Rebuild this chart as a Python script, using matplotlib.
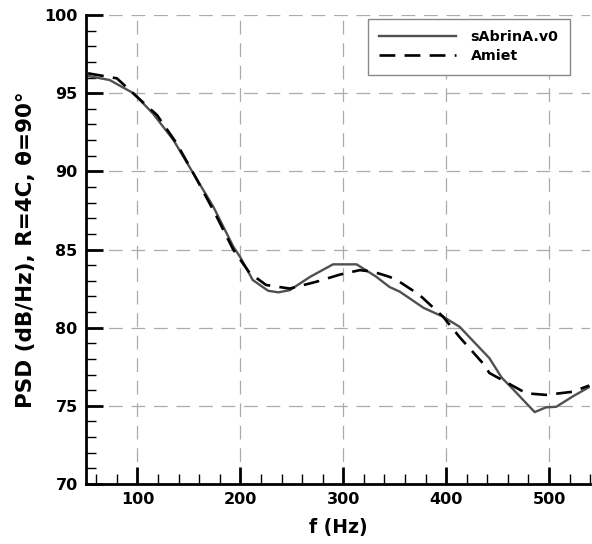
import matplotlib
matplotlib.use('Agg')
import matplotlib.pyplot as plt
from matplotlib.ticker import MultipleLocator

# --- data -----------------------------------------------------------
f_sabrina = [52, 73, 96, 115, 135, 154, 174, 193, 200, 212, 227, 237, 248,
             268, 290, 313, 332, 345, 355, 378, 397, 413, 442, 454, 463,
             486, 497, 507, 523, 539]
psd_sabrina = [96.1, 95.84, 95.0, 93.7, 92.0, 89.9, 87.7, 85.2, 84.5, 83.05,
               82.36, 82.26, 82.4, 83.26, 84.05, 84.05, 83.26, 82.6, 82.3,
               81.27, 80.7, 80.06, 78.05, 76.8, 76.2, 74.6, 74.9, 74.94,
               75.6, 76.2]

f_amiet = [52, 80, 99, 119, 138, 158, 177, 193, 209, 225, 248, 274, 297,
           316, 329, 345, 352, 374, 397, 413, 436, 442, 478, 497, 523, 539]
psd_amiet = [96.27, 95.95, 94.8, 93.6, 91.8, 89.44, 87.1, 85.0, 83.5, 82.73,
             82.5, 82.94, 83.4, 83.68, 83.58, 83.25, 83.05, 82.1, 80.7, 79.4,
             77.7, 77.1, 75.8, 75.7, 75.9, 76.3]

plt.rcParams['font.family'] = ['DejaVu Sans']
plt.rcParams['font.weight'] = 'bold'

fig = plt.figure(figsize=(5.92, 5.44), dpi=100)
ax = fig.add_axes([0.1453, 0.1103, 0.997 - 0.1453, 0.9724 - 0.1103])

ax.plot(f_sabrina, psd_sabrina, color='#505050', lw=1.7, label='sAbrinA.v0')
ax.plot(f_amiet, psd_amiet, color='black', lw=1.9, dashes=(6, 3.5),
        label='Amiet')

ax.set_xlim(50, 540)
ax.set_ylim(70, 100)
ax.xaxis.set_major_locator(MultipleLocator(100))
ax.xaxis.set_minor_locator(MultipleLocator(20))
ax.yaxis.set_major_locator(MultipleLocator(5))
ax.yaxis.set_minor_locator(MultipleLocator(1))

ax.grid(True, which='major', color='#ababab', lw=0.9, dashes=(11, 7))
ax.set_axisbelow(True)

for side in ('top', 'right'):
    ax.spines[side].set_visible(False)
for side in ('left', 'bottom'):
    ax.spines[side].set_linewidth(2)

ax.tick_params(which='major', direction='in', length=12, width=2,
               labelsize=11.5, pad=6)
ax.tick_params(which='minor', direction='in', length=7, width=1)
for lab in ax.get_xticklabels() + ax.get_yticklabels():
    lab.set_fontweight('bold')

ax.set_xlabel('f (Hz)', fontsize=13.5, fontweight='bold', labelpad=8)
ax.set_ylabel('PSD (dB/Hz), R=4C, \u03b8=90\u00b0', fontsize=15.5,
              fontweight='bold', labelpad=6)

leg = ax.legend(loc='upper right', bbox_to_anchor=(0.960, 0.9915),
                borderaxespad=0, fontsize=10.3, fancybox=False, framealpha=1,
                edgecolor='#888888', handlelength=5.4, handletextpad=1.0,
                borderpad=0.8, labelspacing=0.35)
leg.get_frame().set_linewidth(1)

fig.savefig('out.png', dpi=100)
